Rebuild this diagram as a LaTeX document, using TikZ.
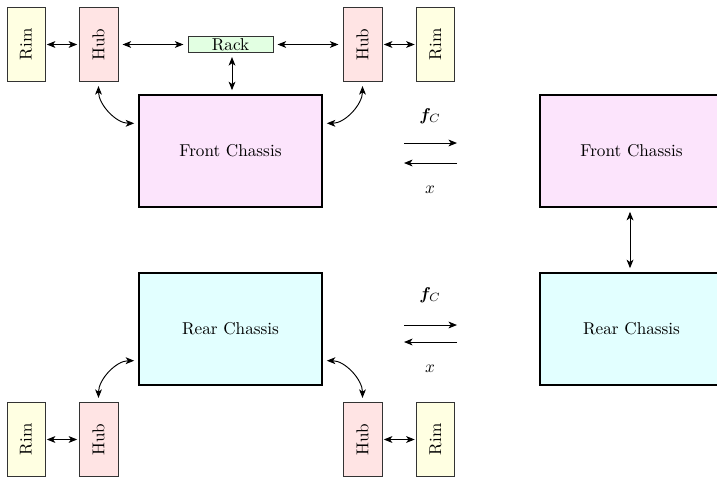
\documentclass[tikz,border=0pt]{standalone}
\usepackage{amsmath,bm}
\usetikzlibrary{arrows.meta,calc}

\definecolor{rimfill}{RGB}{255,255,226}
\definecolor{hubfill}{RGB}{255,228,228}
\definecolor{rackfill}{RGB}{226,255,226}
\definecolor{frontfill}{RGB}{252,228,252}
\definecolor{rearfill}{RGB}{226,255,255}

\tikzset{
  px/.style={x=0.583pt,y=-0.583pt},
  box/.style={draw=black!80,line width=0.55pt,inner sep=0pt,anchor=center},
  rimbox/.style={box,fill=rimfill,minimum width=38*0.583pt,minimum height=74*0.583pt},
  hubbox/.style={box,fill=hubfill,minimum width=39*0.583pt,minimum height=74*0.583pt},
  rackbox/.style={box,fill=rackfill,minimum width=85*0.583pt,minimum height=16*0.583pt},
  chassis/.style={draw=black,line width=0.8pt,inner sep=0pt,minimum width=183*0.583pt,minimum height=112*0.583pt},
  link/.style={{Stealth[length=5pt,width=4pt,inset=1.4pt]}-{Stealth[length=5pt,width=4pt,inset=1.4pt]},line width=0.55pt,shorten <=2.4pt,shorten >=2.4pt},
  flow/.style={-{Stealth[length=5pt,width=4pt,inset=1.4pt]},line width=0.55pt},
}

\begin{document}
\begin{tikzpicture}[px]
\useasboundingbox (0,0) rectangle (717,477);

% front axle
\node[rimbox] (rimTL) at (26,44.5) {\rotatebox{90}{Rim}};
\node[hubbox] (hubTL) at (98.5,44.5) {\rotatebox{90}{Hub}};
\node[rackbox] (rack) at (230.5,44.5) {Rack};
\node[hubbox] (hubTR) at (362.5,44.5) {\rotatebox{90}{Hub}};
\node[rimbox] (rimTR) at (435.5,44.5) {\rotatebox{90}{Rim}};
\node[chassis,fill=frontfill] (frontL) at (230.5,151) {Front Chassis};

% rear axle
\node[chassis,fill=rearfill] (rearL) at (230.5,329) {Rear Chassis};
\node[rimbox] (rimBL) at (26,439.5) {\rotatebox{90}{Rim}};
\node[hubbox] (hubBL) at (98.5,439.5) {\rotatebox{90}{Hub}};
\node[hubbox] (hubBR) at (362.5,439.5) {\rotatebox{90}{Hub}};
\node[rimbox] (rimBR) at (435.5,439.5) {\rotatebox{90}{Rim}};

% reduced model
\node[chassis,fill=frontfill] (frontR) at (631.5,151) {Front Chassis};
\node[chassis,fill=rearfill] (rearR) at (631.5,329) {Rear Chassis};

% front connections
\draw[link,shorten <=0.8pt,shorten >=0.8pt] (rimTL) -- (hubTL);
\draw[link] (hubTL) -- (rack);
\draw[link] (rack) -- (hubTR);
\draw[link,shorten <=0.8pt,shorten >=0.8pt] (hubTR) -- (rimTR);
\draw[link] (rack.south -| 232,0) -- (frontL.north -| 232,0);
\draw[link] (hubTL.south) to[out=-90,in=180] ($(frontL.north west)+(0,29)$);
\draw[link] (hubTR.south) to[out=-90,in=0] ($(frontL.north east)+(0,29)$);

% rear connections
\draw[link] ($(rearL.south west)+(0,-25)$) to[out=180,in=90] (hubBL.north);
\draw[link] ($(rearL.south east)+(0,-25)$) to[out=0,in=90] (hubBR.north);
\draw[link,shorten <=0.8pt,shorten >=0.8pt] (hubBL) -- (rimBL);
\draw[link,shorten <=0.8pt,shorten >=0.8pt] (hubBR) -- (rimBR);

% reduced chassis link
\draw[link] (frontR.south -| 630,0) -- (rearR.north -| 630,0);

% exchanged quantities, front
\node (fcF) at (430,116) {$\bm{f}_C$};
\node (xF) at (430,190) {$x$};
\coordinate (aF1) at (404,143);
\coordinate (bF1) at (457,143);
\coordinate (aF2) at (457,163);
\coordinate (bF2) at (404,163);
\draw[flow] (aF1) -- (bF1);
\draw[flow] (aF2) -- (bF2);

% exchanged quantities, rear
\node (fcR) at (430,295) {$\bm{f}_C$};
\node (xR) at (430,369) {$x$};
\coordinate (aR1) at (404,325);
\coordinate (bR1) at (457,325);
\coordinate (aR2) at (457,342);
\coordinate (bR2) at (404,342);
\draw[flow] (aR1) -- (bR1);
\draw[flow] (aR2) -- (bR2);
\end{tikzpicture}
\end{document}
